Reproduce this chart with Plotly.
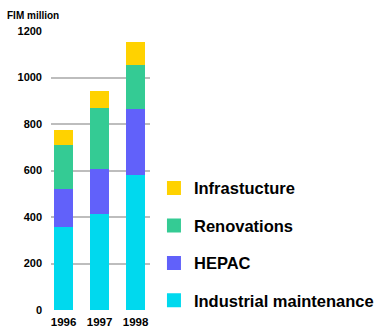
import plotly.graph_objects as go

years = ["1996", "1997", "1998"]
industrial = [362, 418, 585]
hepac = [161, 191, 282]
renovations = [191, 265, 190]
infrastructure = [56, 62, 90]

series = [
    ("Industrial maintenance", industrial, "#00D9EE", 4),
    ("HEPAC", hepac, "#6161FA", 3),
    ("Renovations", renovations, "#34CB94", 2),
    ("Infrastucture", infrastructure, "#FFD200", 1),
]

font_family = "Liberation Sans, Arial, sans-serif"

fig = go.Figure()
for name, vals, color, rank in series:
    fig.add_trace(go.Bar(
        x=years, y=vals, name=name, legendgroup=name, legendrank=rank,
        marker=dict(color=color, line=dict(width=2, color=color)),
        width=0.47,
    ))

fig.update_layout(
    width=376, height=327,
    barmode="stack",
    plot_bgcolor="white", paper_bgcolor="white",
    margin=dict(l=51, r=226, t=31, b=17, pad=0, autoexpand=False),
    font=dict(family=font_family, color="black"),
    xaxis=dict(
        type="category", range=[-0.35, 2.4], automargin=False,
        showgrid=False, zeroline=False, showline=False, ticks="",
        tickfont=dict(size=11.5, family=font_family, weight="bold"),
        ticklabelstandoff=3,
    ),
    yaxis=dict(
        range=[0, 1200], tickvals=[0, 200, 400, 600, 800, 1000, 1200],
        automargin=False,
        showgrid=True, gridcolor="#BDBDBD", gridwidth=1.5,
        zeroline=False, showline=False, ticks="",
        tickfont=dict(size=11, family=font_family, weight="bold"),
        ticklabelstandoff=8,
    ),
    legend=dict(
        x=1.04, y=0.499, xanchor="left", yanchor="top",
        traceorder="grouped", tracegroupgap=13,
        font=dict(size=16.5, family=font_family, weight="bold"),
        bgcolor="rgba(0,0,0,0)",
    ),
    annotations=[dict(
        text="FIM million", xref="paper", yref="paper",
        x=-0.46, y=1.0, yshift=16, xanchor="left", yanchor="middle",
        showarrow=False, font=dict(size=10, family=font_family, weight="bold"),
    )],
)

fig.write_html("out.html")
